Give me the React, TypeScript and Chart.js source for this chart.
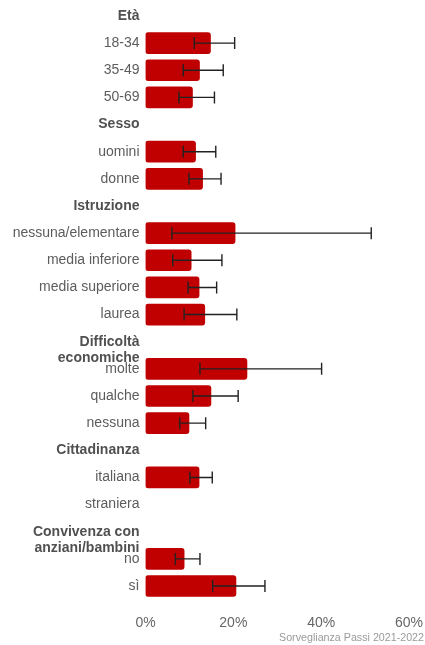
import React, { useEffect, useRef } from "react";
import { Chart, registerables } from "chart.js";

Chart.register(...registerables);

const categories: (string | string[])[] = [
  "Età", "18-34", "35-49", "50-69",
  "Sesso", "uomini", "donne",
  "Istruzione", "nessuna/elementare", "media inferiore", "media superiore", "laurea",
  ["Difficoltà", "economiche"], "molte", "qualche", "nessuna",
  "Cittadinanza", "italiana", "straniera",
  ["Convivenza con", "anziani/bambini"], "no", "sì",
];
const isHeader = [
  true, false, false, false,
  true, false, false,
  true, false, false, false, false,
  true, false, false, false,
  true, false, false,
  true, false, false,
];
const values = [null, 14.8, 12.3, 10.7, null, 11.4, 13.0, null, 20.4, 10.4, 12.2, 13.5, null, 23.1, 14.9, 9.9, null, 12.2, null, null, 8.8, 20.6];
const lower = [null, 11.1, 8.6, 7.6, null, 8.6, 9.9, null, 6.0, 6.2, 9.7, 8.8, null, 12.4, 10.8, 7.8, null, 10.1, null, null, 6.8, 15.3];
const upper = [null, 20.3, 17.7, 15.7, null, 16.0, 17.2, null, 51.4, 17.4, 16.2, 20.8, null, 40.1, 21.1, 13.7, null, 15.2, null, null, 12.4, 27.2];
const xTicks = [0, 20, 40, 60];
const footerText = "Sorveglianza Passi 2021-2022";

const FONT = "'Liberation Sans', Arial, sans-serif";

const errorBarPlugin = {
  id: "errorBars",
  afterDatasetsDraw(chart: any) {
    const xs = chart.scales.x;
    const ys = chart.scales.y;
    const ctx = chart.ctx;
    ctx.save();
    ctx.strokeStyle = "#222222";
    ctx.lineWidth = 1.4;
    for (let i = 0; i < upper.length; i++) {
      const lo = lower[i];
      const hi = upper[i];
      if (lo == null || hi == null) continue;
      const y = ys.getPixelForValue(i);
      const x1 = xs.getPixelForValue(lo);
      const x2 = xs.getPixelForValue(hi);
      ctx.beginPath();
      ctx.moveTo(x1, y);
      ctx.lineTo(x2, y);
      ctx.moveTo(x1, y - 6);
      ctx.lineTo(x1, y + 6);
      ctx.moveTo(x2, y - 6);
      ctx.lineTo(x2, y + 6);
      ctx.stroke();
    }
    ctx.restore();
  },
};

const footerPlugin = {
  id: "footer",
  afterDraw(chart: any) {
    const ctx = chart.ctx;
    ctx.save();
    ctx.fillStyle = "#9a9a9a";
    ctx.font = `10.7px ${FONT}`;
    ctx.textAlign = "right";
    ctx.textBaseline = "middle";
    ctx.fillText(footerText, chart.width - 1, 638);
    ctx.restore();
  },
};

export default function App() {
  const ref = useRef<HTMLCanvasElement | null>(null);
  useEffect(() => {
    if (!ref.current) return;
    const chart = new Chart(ref.current, {
      type: "bar",
      data: {
        labels: categories.map((c) => (Array.isArray(c) ? c.join(" ") : c)),
        datasets: [
          {
            data: values as any,
            backgroundColor: "#c00000",
            borderWidth: 0,
            borderRadius: 3,
            borderSkipped: false,
            barThickness: 21,
          },
        ],
      },
      options: {
        indexAxis: "y",
        animation: false,
        responsive: true,
        maintainAspectRatio: false,
        layout: { padding: { left: 0, right: 16, top: 2.4, bottom: 0 } },
        plugins: { legend: { display: false }, tooltip: { enabled: false } },
        scales: {
          x: {
            min: 0,
            max: 60,
            afterBuildTicks(scale: any) {
              scale.ticks = xTicks.map((v) => ({ value: v }));
            },
            afterFit(scale: any) {
              scale.height = 45.4;
              scale.paddingLeft = 0;
              scale.paddingRight = 0;
            },
            grid: { display: false, drawTicks: false, tickLength: 0 },
            border: { display: false },
            ticks: {
              padding: 15,
              color: "#666666",
              font: { family: FONT, size: 14 },
              callback: (v: any) => `${v}%`,
            },
          },
          y: {
            afterFit(scale: any) {
              scale.width = 145.5;
              scale.paddingTop = 0;
              scale.paddingBottom = 0;
            },
            grid: { display: false, drawTicks: false, tickLength: 0 },
            border: { display: false },
            ticks: {
              padding: 6,
              autoSkip: false,
              color: (c: any) => (isHeader[c.index] ? "#505050" : "#5c5c5c"),
              font: (c: any) => ({
                family: FONT,
                size: 14,
                weight: isHeader[c.index] ? "bold" : "normal",
                lineHeight: 1.2,
              }),
              callback: (_v: any, i: number) => {
                const c = categories[i];
                return Array.isArray(c) ? ["", ...c] : c;
              },
            },
          },
        },
      },
      plugins: [errorBarPlugin, footerPlugin],
    });
    return () => chart.destroy();
  }, []);
  return (
    <div style={{ position: "fixed", left: 0, top: 0, width: 425, height: 645 }}>
      <canvas ref={ref} />
    </div>
  );
}
